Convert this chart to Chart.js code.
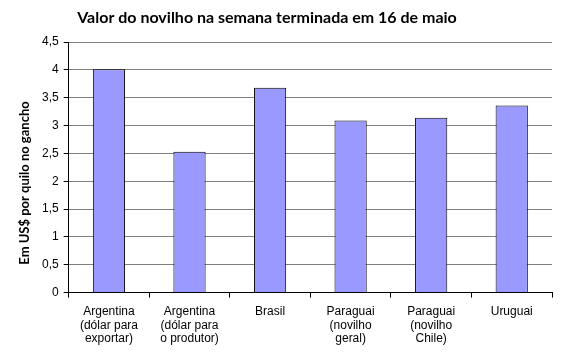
<!DOCTYPE html>
<html>
<head>
<meta charset="utf-8">
<script src="https://cdn.jsdelivr.net/npm/chart.js@4/dist/chart.umd.min.js"></script>
<style>
html,body{margin:0;padding:0;background:#fff;}
#wrap{width:564px;height:357px;}
</style>
</head>
<body>
<div id="wrap"><canvas id="c" width="564" height="357"></canvas></div>
<script>
const categories = [
  ["Argentina", "(dólar para", "exportar)"],
  ["Argentina", "(dólar para", "o produtor)"],
  ["Brasil"],
  ["Paraguai", "(novilho", "geral)"],
  ["Paraguai", "(novilho", "Chile)"],
  ["Uruguai"]
];
const values = [4.01, 2.53, 3.68, 3.09, 3.14, 3.36];
const yTickLabels = ["0", "0,5", "1", "1,5", "2", "2,5", "3", "3,5", "4", "4,5"];
const titleText = "Valor do novilho na semana terminada em 16 de maio";
const yTitle = "Em US$ por quilo no gancho";

const titlesPlugin = {
  id: 'titles',
  afterDraw(chart) {
    const ctx = chart.ctx;
    ctx.save();
    ctx.fillStyle = '#000';
    ctx.textAlign = 'center';
    ctx.textBaseline = 'middle';
    ctx.font = 'bold 16px Lato';
    ctx.fillText(titleText, 267, 18);
    ctx.translate(25, 183);
    ctx.rotate(-Math.PI / 2);
    ctx.font = 'bold 13px Lato';
    ctx.fillText(yTitle, 0, 0);
    ctx.restore();
  }
};

new Chart(document.getElementById('c'), {
  type: 'bar',
  data: {
    labels: categories,
    datasets: [{
      data: values,
      backgroundColor: '#9999FF',
      borderColor: '#000000',
      borderWidth: 1,
      categoryPercentage: 1,
      barPercentage: 0.4
    }]
  },
  plugins: [titlesPlugin],
  options: {
    responsive: false,
    animation: false,
    layout: { padding: { left: 37, right: 12, top: 42, bottom: 4 } },
    plugins: {
      legend: { display: false },
      tooltip: { enabled: false },
      title: { display: false }
    },
    scales: {
      x: {
        grid: {
          offset: true,
          drawOnChartArea: true,
          color: (ctx) => (ctx.index === categories.length ? '#808080' : 'rgba(0,0,0,0)'),
          tickColor: '#000',
          tickLength: 5
        },
        border: { color: '#000', width: 1 },
        ticks: {
          color: '#000',
          font: { family: 'Liberation Sans', size: 12, lineHeight: 1.15 },
          maxRotation: 0,
          autoSkip: false,
          padding: 7
        }
      },
      y: {
        min: 0,
        max: 4.5,
        grid: {
          color: '#808080',
          tickColor: '#000',
          tickLength: 5
        },
        border: { color: '#000', width: 1 },
        ticks: {
          stepSize: 0.5,
          color: '#000',
          font: { family: 'Liberation Sans', size: 12 },
          padding: 5,
          callback: (v, i) => yTickLabels[i]
        }
      }
    }
  }
});
</script>
</body>
</html>
